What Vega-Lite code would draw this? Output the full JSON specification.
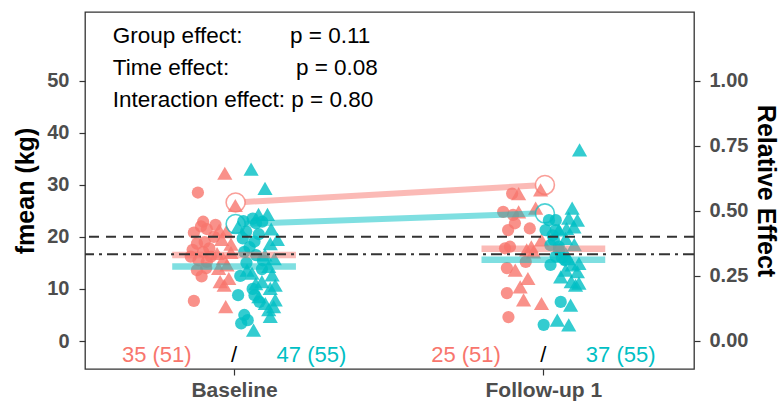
{
  "$schema": "https://vega.github.io/schema/vega-lite/v6.json",
  "width": 609,
  "height": 357,
  "autosize": {"type": "none"},
  "padding": {"left": 85, "top": 12, "right": 89, "bottom": 36},
  "background": "white",
  "config": {
    "view": {"stroke": "#333333", "strokeWidth": 1.3},
    "font": "Liberation Sans",
    "axis": {
      "labelFont": "Liberation Sans", "labelFontWeight": "bold", "labelColor": "#4D4D4D", "labelFontSize": 20,
      "tickColor": "#333333", "tickSize": 6, "tickWidth": 1.2, "domain": false, "grid": false,
      "titleFont": "Liberation Sans", "titleFontWeight": "bold", "titleColor": "#000000", "titleFontSize": 25
    }
  },
  "datasets": {
    "points": [
      {"x":0.970,"fmean":32.2,"group":"A","sym":"t"},
      {"x":0.883,"fmean":28.5,"group":"A","sym":"c"},
      {"x":1.004,"fmean":26.0,"group":"A","sym":"t"},
      {"x":0.900,"fmean":22.9,"group":"A","sym":"c"},
      {"x":0.893,"fmean":22.0,"group":"A","sym":"c"},
      {"x":0.912,"fmean":21.5,"group":"A","sym":"c"},
      {"x":0.952,"fmean":21.3,"group":"A","sym":"t"},
      {"x":0.975,"fmean":21.0,"group":"A","sym":"t"},
      {"x":0.880,"fmean":18.7,"group":"A","sym":"c"},
      {"x":0.905,"fmean":19.0,"group":"A","sym":"c"},
      {"x":0.866,"fmean":17.5,"group":"A","sym":"c"},
      {"x":0.900,"fmean":17.1,"group":"A","sym":"c"},
      {"x":0.920,"fmean":17.8,"group":"A","sym":"c"},
      {"x":0.885,"fmean":15.5,"group":"A","sym":"c"},
      {"x":0.912,"fmean":15.2,"group":"A","sym":"c"},
      {"x":0.880,"fmean":13.6,"group":"A","sym":"c"},
      {"x":0.950,"fmean":13.95,"group":"A","sym":"t"},
      {"x":0.977,"fmean":14.6,"group":"A","sym":"t"},
      {"x":0.983,"fmean":12.0,"group":"A","sym":"t"},
      {"x":0.968,"fmean":10.7,"group":"A","sym":"t"},
      {"x":0.973,"fmean":6.6,"group":"A","sym":"t"},
      {"x":0.870,"fmean":7.7,"group":"A","sym":"c"},
      {"x":0.935,"fmean":20.0,"group":"A","sym":"c"},
      {"x":0.960,"fmean":19.5,"group":"A","sym":"t"},
      {"x":0.925,"fmean":16.2,"group":"A","sym":"c"},
      {"x":0.990,"fmean":17.0,"group":"A","sym":"t"},
      {"x":0.895,"fmean":12.4,"group":"A","sym":"c"},
      {"x":0.945,"fmean":16.8,"group":"A","sym":"t"},
      {"x":0.870,"fmean":20.8,"group":"A","sym":"c"},
      {"x":0.990,"fmean":18.6,"group":"A","sym":"t"},
      {"x":0.910,"fmean":14.0,"group":"A","sym":"c"},
      {"x":0.955,"fmean":11.4,"group":"A","sym":"t"},
      {"x":0.940,"fmean":22.3,"group":"A","sym":"c"},
      {"x":0.965,"fmean":15.8,"group":"A","sym":"t"},
      {"x":0.860,"fmean":16.2,"group":"A","sym":"c"},

      {"x":1.055,"fmean":33.0,"group":"B","sym":"t"},
      {"x":1.100,"fmean":29.3,"group":"B","sym":"t"},
      {"x":1.108,"fmean":24.3,"group":"B","sym":"t"},
      {"x":1.079,"fmean":24.3,"group":"B","sym":"t"},
      {"x":1.060,"fmean":23.5,"group":"B","sym":"c"},
      {"x":1.071,"fmean":22.6,"group":"B","sym":"c"},
      {"x":1.091,"fmean":22.9,"group":"B","sym":"c"},
      {"x":1.028,"fmean":19.7,"group":"B","sym":"c"},
      {"x":1.066,"fmean":19.1,"group":"B","sym":"c"},
      {"x":1.039,"fmean":21.0,"group":"B","sym":"c"},
      {"x":1.117,"fmean":18.7,"group":"B","sym":"t"},
      {"x":1.013,"fmean":21.9,"group":"B","sym":"t"},
      {"x":1.033,"fmean":17.1,"group":"B","sym":"c"},
      {"x":1.071,"fmean":16.5,"group":"B","sym":"c"},
      {"x":1.093,"fmean":15.5,"group":"B","sym":"c"},
      {"x":1.042,"fmean":13.6,"group":"B","sym":"t"},
      {"x":1.058,"fmean":13.0,"group":"B","sym":"t"},
      {"x":1.112,"fmean":14.3,"group":"B","sym":"t"},
      {"x":1.123,"fmean":12.7,"group":"B","sym":"t"},
      {"x":1.090,"fmean":11.4,"group":"B","sym":"t"},
      {"x":1.117,"fmean":10.1,"group":"B","sym":"t"},
      {"x":1.133,"fmean":10.7,"group":"B","sym":"t"},
      {"x":1.013,"fmean":8.8,"group":"B","sym":"c"},
      {"x":1.066,"fmean":8.8,"group":"B","sym":"c"},
      {"x":1.082,"fmean":7.5,"group":"B","sym":"c"},
      {"x":1.033,"fmean":5.0,"group":"B","sym":"c"},
      {"x":1.044,"fmean":4.0,"group":"B","sym":"c"},
      {"x":1.023,"fmean":3.4,"group":"B","sym":"c"},
      {"x":1.101,"fmean":7.2,"group":"B","sym":"t"},
      {"x":1.112,"fmean":6.0,"group":"B","sym":"t"},
      {"x":1.128,"fmean":6.6,"group":"B","sym":"t"},
      {"x":1.117,"fmean":4.7,"group":"B","sym":"t"},
      {"x":1.063,"fmean":2.1,"group":"B","sym":"t"},
      {"x":1.133,"fmean":7.9,"group":"B","sym":"t"},
      {"x":1.050,"fmean":18.0,"group":"B","sym":"c"},
      {"x":1.080,"fmean":20.5,"group":"B","sym":"c"},
      {"x":1.100,"fmean":16.5,"group":"B","sym":"t"},
      {"x":1.130,"fmean":15.8,"group":"B","sym":"t"},
      {"x":1.040,"fmean":15.0,"group":"B","sym":"c"},
      {"x":1.020,"fmean":12.5,"group":"B","sym":"c"},
      {"x":1.070,"fmean":11.0,"group":"B","sym":"t"},
      {"x":1.090,"fmean":13.8,"group":"B","sym":"c"},
      {"x":1.140,"fmean":19.5,"group":"B","sym":"t"},
      {"x":1.060,"fmean":10.0,"group":"B","sym":"c"},
      {"x":1.080,"fmean":8.5,"group":"B","sym":"t"},
      {"x":1.030,"fmean":23.0,"group":"B","sym":"c"},
      {"x":1.120,"fmean":21.5,"group":"B","sym":"t"},

      {"x":1.899,"fmean":28.3,"group":"A","sym":"c"},
      {"x":1.920,"fmean":28.3,"group":"A","sym":"t"},
      {"x":1.991,"fmean":29.0,"group":"A","sym":"t"},
      {"x":1.975,"fmean":25.5,"group":"A","sym":"t"},
      {"x":1.870,"fmean":24.8,"group":"A","sym":"c"},
      {"x":1.902,"fmean":24.2,"group":"A","sym":"c"},
      {"x":1.908,"fmean":22.6,"group":"A","sym":"c"},
      {"x":1.886,"fmean":21.3,"group":"A","sym":"c"},
      {"x":1.956,"fmean":21.6,"group":"A","sym":"c"},
      {"x":1.892,"fmean":18.1,"group":"A","sym":"c"},
      {"x":1.920,"fmean":24.8,"group":"A","sym":"t"},
      {"x":1.961,"fmean":18.1,"group":"A","sym":"t"},
      {"x":1.994,"fmean":19.4,"group":"A","sym":"t"},
      {"x":1.876,"fmean":17.8,"group":"A","sym":"c"},
      {"x":1.882,"fmean":14.0,"group":"A","sym":"c"},
      {"x":1.882,"fmean":9.2,"group":"A","sym":"c"},
      {"x":1.887,"fmean":4.6,"group":"A","sym":"c"},
      {"x":1.946,"fmean":17.5,"group":"A","sym":"t"},
      {"x":1.968,"fmean":17.1,"group":"A","sym":"t"},
      {"x":1.909,"fmean":13.6,"group":"A","sym":"t"},
      {"x":1.925,"fmean":10.4,"group":"A","sym":"t"},
      {"x":1.936,"fmean":7.9,"group":"A","sym":"t"},
      {"x":1.994,"fmean":7.2,"group":"A","sym":"t"},
      {"x":1.943,"fmean":15.2,"group":"A","sym":"c"},
      {"x":1.950,"fmean":12.0,"group":"A","sym":"t"},

      {"x":2.117,"fmean":36.7,"group":"B","sym":"t"},
      {"x":2.093,"fmean":25.5,"group":"B","sym":"t"},
      {"x":2.082,"fmean":23.6,"group":"B","sym":"t"},
      {"x":2.099,"fmean":21.9,"group":"B","sym":"t"},
      {"x":2.072,"fmean":19.7,"group":"B","sym":"t"},
      {"x":2.050,"fmean":21.3,"group":"B","sym":"t"},
      {"x":2.018,"fmean":23.2,"group":"B","sym":"c"},
      {"x":2.007,"fmean":21.3,"group":"B","sym":"c"},
      {"x":2.034,"fmean":19.4,"group":"B","sym":"c"},
      {"x":2.023,"fmean":18.4,"group":"B","sym":"c"},
      {"x":2.050,"fmean":18.1,"group":"B","sym":"c"},
      {"x":2.023,"fmean":14.6,"group":"B","sym":"c"},
      {"x":2.056,"fmean":7.5,"group":"B","sym":"c"},
      {"x":2.001,"fmean":3.1,"group":"B","sym":"c"},
      {"x":2.072,"fmean":13.6,"group":"B","sym":"t"},
      {"x":2.093,"fmean":14.6,"group":"B","sym":"t"},
      {"x":2.110,"fmean":13.3,"group":"B","sym":"t"},
      {"x":2.056,"fmean":12.3,"group":"B","sym":"t"},
      {"x":2.104,"fmean":10.7,"group":"B","sym":"t"},
      {"x":2.088,"fmean":6.9,"group":"B","sym":"t"},
      {"x":2.045,"fmean":4.0,"group":"B","sym":"t"},
      {"x":2.082,"fmean":3.1,"group":"B","sym":"t"},
      {"x":2.072,"fmean":16.8,"group":"B","sym":"t"},
      {"x":2.040,"fmean":16.2,"group":"B","sym":"c"},
      {"x":2.110,"fmean":23.2,"group":"B","sym":"t"},
      {"x":2.075,"fmean":21.6,"group":"B","sym":"t"},
      {"x":2.040,"fmean":21.3,"group":"B","sym":"c"},
      {"x":2.040,"fmean":23.2,"group":"B","sym":"c"},
      {"x":2.050,"fmean":17.5,"group":"B","sym":"c"},
      {"x":2.060,"fmean":16.0,"group":"B","sym":"c"},
      {"x":2.115,"fmean":14.9,"group":"B","sym":"t"},
      {"x":2.090,"fmean":11.4,"group":"B","sym":"t"},
      {"x":2.115,"fmean":11.1,"group":"B","sym":"t"},
      {"x":2.070,"fmean":15.5,"group":"B","sym":"c"},
      {"x":2.100,"fmean":18.5,"group":"B","sym":"t"},
      {"x":2.030,"fmean":20.3,"group":"B","sym":"c"},
      {"x":2.080,"fmean":15.8,"group":"B","sym":"t"}
    ],
    "bars": [
      {"x":0.80,"x2":1.20,"fmean":16.5,"group":"A"},
      {"x":0.80,"x2":1.20,"fmean":14.3,"group":"B"},
      {"x":1.80,"x2":2.20,"fmean":17.7,"group":"A"},
      {"x":1.80,"x2":2.20,"fmean":15.6,"group":"B"}
    ],
    "counts": [
      {"x":0.75,"label":"35 (51)","group":"A"},
      {"x":1.0,"label":"/","group":"S"},
      {"x":1.25,"label":"47 (55)","group":"B"},
      {"x":1.75,"label":"25 (51)","group":"A"},
      {"x":2.0,"label":"/","group":"S"},
      {"x":2.25,"label":"37 (55)","group":"B"}
    ],
    "notes": [
      {"x":0.608,"fmean":57.2,"label":"Group effect:"},
      {"x":1.181,"fmean":57.2,"label":"p = 0.11"},
      {"x":0.608,"fmean":51.1,"label":"Time effect:"},
      {"x":1.200,"fmean":51.1,"label":"p = 0.08"},
      {"x":0.608,"fmean":44.9,"label":"Interaction effect: p = 0.80"}
    ],
    "refs": [
      {"rel":0.4,"type":"dashed"},
      {"rel":0.3333,"type":"dotdash"}
    ],
    "rellines": [
      {"x":1.035,"rel":0.534,"group":"A"},
      {"x":1.975,"rel":0.597,"group":"A"},
      {"x":1.035,"rel":0.450,"group":"B"},
      {"x":1.975,"rel":0.489,"group":"B"}
    ],
    "relpts": [
      {"x":1.005,"rel":0.532,"group":"A"},
      {"x":2.005,"rel":0.599,"group":"A"},
      {"x":1.005,"rel":0.449,"group":"B"},
      {"x":2.005,"rel":0.490,"group":"B"}
    ]
  },
  "layer": [
    {
      "layer": [
        {
          "data": {"name": "points"},
          "mark": {"type": "point", "filled": true, "opacity": 0.8, "strokeWidth": 0},
          "encoding": {
            "x": {"field": "x", "type": "quantitative", "scale": {"domain": [0.518, 2.487], "nice": false, "zero": false},
                  "axis": {"values": [1, 2], "labelExpr": "datum.value == 1 ? 'Baseline' : 'Follow-up 1'", "labelFontSize": 21, "labelPadding": 4, "title": null}},
            "y": {"field": "fmean", "type": "quantitative", "scale": {"domain": [-5.37, 63.15], "nice": false, "zero": false},
                  "axis": {"orient": "left", "values": [0, 10, 20, 30, 40, 50], "labelPadding": 10, "title": "fmean (kg)", "titleX": -52, "titleY": 178.5, "titleBaseline": "alphabetic"}},
            "color": {"field": "group", "type": "nominal", "scale": {"domain": ["A", "B", "S"], "range": ["#F8766D", "#00BFC4", "#000000"]}, "legend": null},
            "shape": {"field": "sym", "type": "nominal", "scale": {"domain": ["c", "t"], "range": ["circle", "triangle-up"]}, "legend": null},
            "size": {"field": "sym", "type": "nominal", "scale": {"domain": ["c", "t"], "range": [150, 230]}, "legend": null}
          }
        },
        {
          "data": {"name": "bars"},
          "mark": {"type": "rule", "strokeWidth": 6.5, "opacity": 0.5},
          "encoding": {
            "x": {"field": "x", "type": "quantitative"},
            "x2": {"field": "x2"},
            "y": {"field": "fmean", "type": "quantitative"},
            "color": {"field": "group", "type": "nominal", "legend": null}
          }
        },
        {
          "data": {"name": "counts"},
          "mark": {"type": "text", "fontSize": 22, "baseline": "middle", "align": "center"},
          "encoding": {
            "x": {"field": "x", "type": "quantitative"},
            "y": {"datum": -2.6, "type": "quantitative"},
            "text": {"field": "label"},
            "color": {"field": "group", "type": "nominal", "legend": null}
          }
        },
        {
          "data": {"name": "notes"},
          "mark": {"type": "text", "fontSize": 22.5, "baseline": "alphabetic", "align": "left", "color": "#000000"},
          "encoding": {
            "x": {"field": "x", "type": "quantitative"},
            "y": {"field": "fmean", "type": "quantitative"},
            "text": {"field": "label"}
          }
        }
      ]
    },
    {
      "layer": [
        {
          "data": {"name": "rellines"},
          "mark": {"type": "line", "strokeWidth": 6, "opacity": 0.5},
          "encoding": {
            "x": {"field": "x", "type": "quantitative"},
            "y": {"field": "rel", "type": "quantitative", "scale": {"domain": [-0.1075, 1.263], "nice": false, "zero": false},
                  "axis": {"orient": "right", "values": [0, 0.25, 0.5, 0.75, 1], "format": ".2f", "labelPadding": 9, "title": "Relative Effect", "titleX": 63, "titleY": 178.5, "titleBaseline": "alphabetic", "titleAngle": 90}},
            "color": {"field": "group", "type": "nominal", "legend": null},
            "detail": {"field": "group"}
          }
        },
        {
          "data": {"name": "relpts"},
          "mark": {"type": "point", "shape": "circle", "filled": false, "size": 360, "strokeWidth": 1.6},
          "encoding": {
            "x": {"field": "x", "type": "quantitative"},
            "y": {"field": "rel", "type": "quantitative"},
            "color": {"field": "group", "type": "nominal", "legend": null}
          }
        },
        {
          "data": {"name": "refs"},
          "mark": {"type": "rule", "color": "#333333", "strokeWidth": 2},
          "encoding": {
            "y": {"field": "rel", "type": "quantitative"},
            "strokeDash": {"field": "type", "type": "nominal", "scale": {"domain": ["dashed", "dotdash"], "range": [[10, 7], [11, 5, 3, 5]]}, "legend": null}
          }
        }
      ]
    }
  ],
  "resolve": {"scale": {"y": "independent"}}
}
